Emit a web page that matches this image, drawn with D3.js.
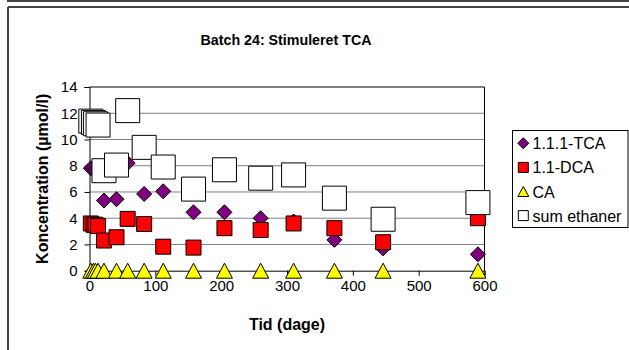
<!DOCTYPE html>
<html><head><meta charset="utf-8">
<script src="https://cdn.jsdelivr.net/npm/d3@7"></script>
<style>
html,body{margin:0;padding:0;background:#fff;}
svg{display:block;font-family:"Liberation Sans",Arial,sans-serif;}
</style></head>
<body><svg id="c" width="629" height="350"></svg>
<script>
const days   = [2, 6, 9, 13, 22, 41, 58, 83, 112, 158, 205, 260, 310, 372, 446, 590];
const tca    = [7.8, 7.8, 7.7, 7.7, 5.35, 5.45, 8.2, 5.85, 6.05, 4.45, 4.45, 4.0, 3.75, 2.35, 1.7, 1.25];
const dca    = [3.6, 3.5, 3.5, 3.4, 2.3, 2.55, 3.95, 3.56, 1.83, 1.76, 3.24, 3.1, 3.6, 3.24, 2.17, 4.0];
const ca     = [0, 0, 0, 0, 0, 0, 0, 0, 0, 0, 0, 0, 0, 0, 0, 0];
const sumEth = [11.4, 11.3, 11.2, 11.1, 7.62, 8.05, 12.2, 9.4, 7.9, 6.22, 7.69, 7.05, 7.3, 5.53, 3.92, 5.19];
const seriesNames = ["1.1.1-TCA", "1.1-DCA", "CA", "sum ethaner"];
const xTicks = [0, 100, 200, 300, 400, 500, 600];
const yTicks = [0, 2, 4, 6, 8, 10, 12, 14];
const titleText = "Batch 24: Stimuleret TCA";
const xTitle = "Tid (dage)";
const yTitle = "Koncentration (µmol/l)";

const svg = d3.select("#c");
const x = d3.scaleLinear().domain([0, 600]).range([89.5, 484.5]);
const y = d3.scaleLinear().domain([0, 14]).range([270.7, 87]);

// frames
svg.append("line").attr("x1", 8).attr("x2", 629).attr("y1", 1).attr("y2", 1).attr("stroke", "#444").attr("stroke-width", 2);
svg.append("line").attr("x1", 8).attr("x2", 8).attr("y1", 0).attr("y2", 2).attr("stroke", "#444").attr("stroke-width", 2);
svg.append("line").attr("x1", 8).attr("x2", 629).attr("y1", 7).attr("y2", 7).attr("stroke", "#444").attr("stroke-width", 2);
svg.append("line").attr("x1", 8).attr("x2", 8).attr("y1", 7).attr("y2", 350).attr("stroke", "#444").attr("stroke-width", 2);

// title
svg.append("text").attr("transform", "translate(286,45) scale(0.92,1)").attr("text-anchor", "middle")
  .attr("font-size", 15.5).attr("font-weight", "bold").text(titleText);

// gridlines
svg.append("g").selectAll("line").data(yTicks.filter(v => v > 0 && v < 14)).join("line")
  .attr("x1", x(0)).attr("x2", x(600)).attr("y1", d => y(d)).attr("y2", d => y(d))
  .attr("stroke", "#808080").attr("stroke-width", 1);
// plot border top/right
svg.append("path").attr("d", `M${x(0)},${y(14)}H${x(600)}V${y(0)}`).attr("fill", "none").attr("stroke", "#000").attr("stroke-width", 1);

// axes
const gx = svg.append("g").attr("transform", `translate(0,${y(0)})`)
  .call(d3.axisBottom(x).tickValues(xTicks).tickSize(5).tickPadding(5).tickFormat(d3.format("d")));
const gy = svg.append("g").attr("transform", `translate(${x(0)},0)`)
  .call(d3.axisLeft(y).tickValues(yTicks).tickSize(5).tickPadding(7).tickFormat(d3.format("d")));
[gx, gy].forEach(g => {
  g.select(".domain").attr("stroke", "#000");
  g.selectAll(".tick line").attr("stroke", "#000");
  g.selectAll("text").attr("font-size", 15).attr("font-family", "Liberation Sans, Arial, sans-serif").attr("fill", "#000");
});

// axis titles
svg.append("text").attr("x", 287).attr("y", 330).attr("text-anchor", "middle")
  .attr("font-size", 16).attr("font-weight", "bold").text(xTitle);
svg.append("text").attr("transform", `translate(48,${(y(0) + y(14)) / 2}) rotate(-90)`).attr("text-anchor", "middle")
  .attr("font-size", 16).attr("font-weight", "bold").text(yTitle);

// marker shapes
function diamond(s) { return `M0,${-s}L${s},0L0,${s}L${-s},0Z`; }
function square(s) { return `M${-s},${-s}H${s}V${s}H${-s}Z`; }
function tri(w, h) { return `M0,${-h/2}L${w/2},${h/2}L${-w/2},${h/2}Z`; }

const series = [
  { vals: tca, path: diamond(7.5), fill: "#800080", lpath: diamond(5.5) },
  { vals: dca, path: square(7.5), fill: "#FF0000", lpath: square(5) },
  { vals: ca, path: tri(16, 15), fill: "#FFFF00", lpath: tri(11, 10) },
  { vals: sumEth, path: square(12), fill: "#FFFFFF", lpath: square(5) }
];

series.forEach(s => {
  svg.append("g").selectAll("path").data(days.map((d, i) => [d, s.vals[i]])).join("path")
    .attr("transform", d => `translate(${x(d[0])},${y(d[1])})`)
    .attr("d", s.path).attr("fill", s.fill).attr("stroke", "#000").attr("stroke-width", 1);
});

// legend
const lg = svg.append("g");
lg.append("rect").attr("x", 512.5).attr("y", 130.5).attr("width", 115.5).attr("height", 97)
  .attr("fill", "#fff").attr("stroke", "#000").attr("stroke-width", 1);
series.forEach((s, i) => {
  const by = 149.3 + i * 24.1;
  lg.append("path").attr("transform", `translate(523.3,${by - 6})`).attr("d", s.lpath)
    .attr("fill", s.fill).attr("stroke", "#000").attr("stroke-width", 1);
  lg.append("text").attr("x", 532.5).attr("y", by).attr("font-size", 16).text(seriesNames[i]);
});
</script></body></html>
